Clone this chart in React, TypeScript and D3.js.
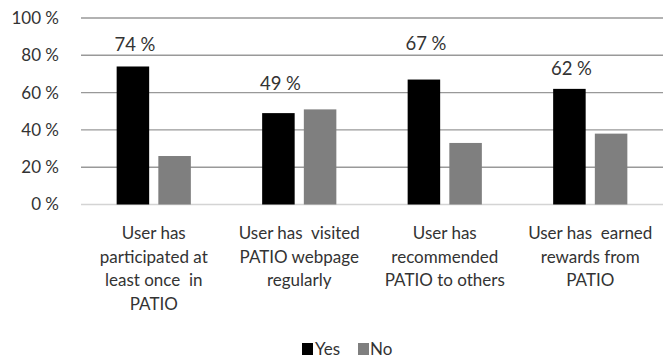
import React from "react";
import * as d3 from "d3";

const categories = [
  ["User has", "participated at", "least once  in", "PATIO"],
  ["User has  visited", "PATIO webpage", "regularly"],
  ["User has", "recommended", "PATIO to others"],
  ["User has  earned", "rewards from", "PATIO"],
];
const categoryKeys = ["participated", "visited", "recommended", "earned"];
const series = ["Yes", "No"];
const yesValues = [74, 49, 67, 62];
const noValues = [26, 51, 33, 38];
const yesLabels = ["74 %", "49 %", "67 %", "62 %"];
// label anchor heights, in % units
const labelAnchors = [82.4, 61.5, 82.9, 69.5];
const yTicks = [0, 20, 40, 60, 80, 100];

const W = 670;
const H = 360;
const FONT = "Lato, 'Open Sans', sans-serif";
const TEXT = "#333333";
const colors: Record<string, string> = { Yes: "#000000", No: "#7f7f7f" };

export default function App() {
  const x = d3
    .scaleBand<string>()
    .domain(categoryKeys)
    .range([81, 663])
    .paddingInner(0.49)
    .paddingOuter(0.245);
  const xi = d3
    .scaleBand<string>()
    .domain(series)
    .range([0, x.bandwidth()])
    .paddingInner(0.22);
  const y = d3.scaleLinear().domain([0, 100]).range([204.5, 18]);

  const valuesBy: Record<string, number[]> = { Yes: yesValues, No: noValues };

  return (
    <svg
      width={W}
      height={H}
      style={{ position: "absolute", left: 0, top: 0, background: "#fff" }}
      fontFamily={FONT}
    >
      <rect width={W} height={H} fill="#fff" />
      {yTicks.map((t) => (
        <g key={t}>
          <line
            x1={81}
            x2={663}
            y1={y(t)}
            y2={y(t)}
            stroke={t === 0 ? "#d4d4d4" : "#999999"}
            strokeWidth={1.4}
          />
          <text
            x={59}
            y={y(t)}
            dy="0.35em"
            textAnchor="end"
            fontSize={17}
            fill={TEXT}
          >
            {t} %
          </text>
        </g>
      ))}
      {categoryKeys.map((k, i) => (
        <g key={k} transform={`translate(${x(k)},0)`}>
          {series.map((s) => {
            const v = valuesBy[s][i];
            return (
              <rect
                key={s}
                x={xi(s)}
                y={y(v)}
                width={xi.bandwidth()}
                height={y(0) - y(v)}
                fill={colors[s]}
              />
            );
          })}
          <text
            x={(xi("Yes") as number) + xi.bandwidth() / 2 + 2}
            y={y(labelAnchors[i])}
            textAnchor="middle"
            fontSize={18.5}
            fill={TEXT}
          >
            {yesLabels[i]}
          </text>
          {categories[i].map((line, j) => (
            <text
              key={j}
              x={x.bandwidth() / 2}
              y={239 + j * 23.7}
              textAnchor="middle"
              fontSize={17}
              fill={TEXT}
              style={{ whiteSpace: "pre" }}
            >
              {line}
            </text>
          ))}
        </g>
      ))}
      <g>
        <rect x={302} y={343} width={11} height={12} fill={colors.Yes} />
        <text x={315} y={355} fontSize={17} fill={TEXT}>
          Yes
        </text>
        <rect x={358} y={343} width={11} height={12} fill={colors.No} />
        <text x={370} y={355} fontSize={17} fill={TEXT}>
          No
        </text>
      </g>
    </svg>
  );
}
